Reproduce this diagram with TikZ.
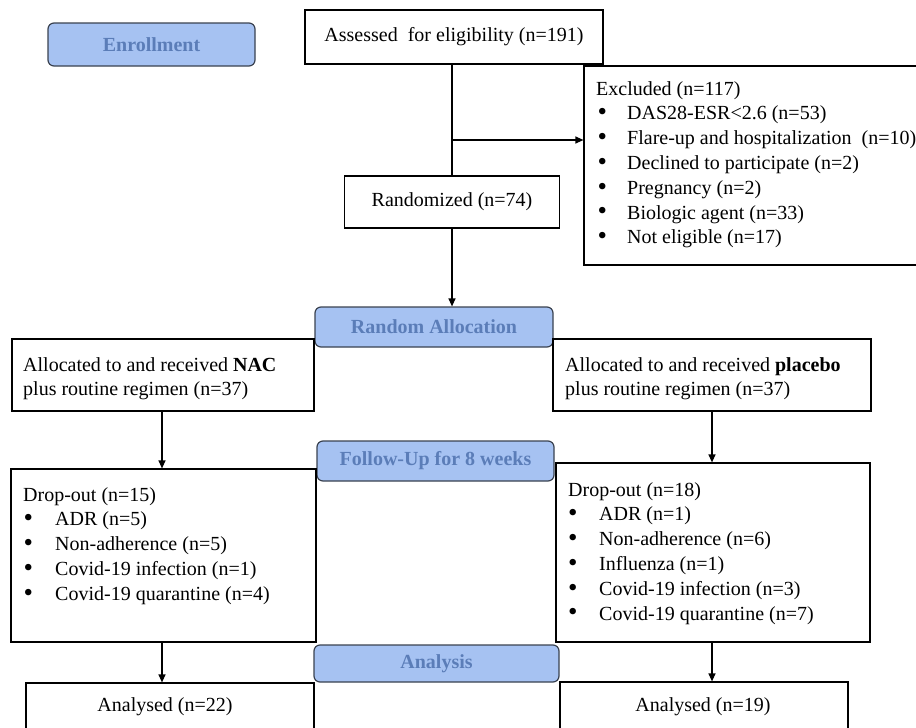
\documentclass[tikz,border=0pt]{standalone}
\usepackage{fontspec}
\setmainfont{Liberation Serif}
\usetikzlibrary{arrows.meta}
\definecolor{phasefill}{HTML}{A6C2F2}
\definecolor{phasetext}{HTML}{5B7DB8}
\definecolor{phaseline}{HTML}{3A4250}
\newcommand{\bulitem}[2]{\hspace*{#1pt}\makebox[#2pt][l]{\raisebox{-0.9pt}{\scalebox{1.35}{\textbullet}}}}
\begin{document}
\begin{tikzpicture}[x=1pt,y=-1pt,
  font=\fontsize{20}{24.8}\selectfont,
  boxnode/.style={draw, line width=1.2pt, inner sep=0pt},
  phase/.style={draw=phaseline, fill=phasefill, rounded corners=6pt, line width=1.2pt,
    text=phasetext, font=\fontsize{20}{24}\selectfont\bfseries, inner sep=0pt},
  txt/.style={anchor=north west, inner sep=0pt, align=left},
  arr/.style={line width=1.2pt, -{Triangle[length=8pt,width=7pt]}},
  ln/.style={line width=1.2pt}]
\useasboundingbox (0,0) rectangle (916,728);
\clip (0,0) rectangle (916,728);

% phase labels
\node[phase, minimum width=207, minimum height=43] (enroll) at (151.5,44.5) {Enrollment};
\node[phase, minimum width=238, minimum height=40] (alloc) at (434,327) {Random Allocation};
\node[phase, minimum width=237, minimum height=40] (follow) at (435.5,461) {Follow-Up for 8 weeks};
\node[phase, minimum width=245, minimum height=37] (analysis) at (436.5,663.5) {Analysis};

% boxes
\node[boxnode, minimum width=298, minimum height=54] (assess) at (454,37) {Assessed\ \ for eligibility (n=191)};
\node[boxnode, minimum width=356, minimum height=199] (excl) at (762,165.5) {};
\node[txt] (exclt) at (596,81) {Excluded (n=117)\\
\bulitem{1.5}{29.5}DAS28-ESR<2.6 (n=53)\\
\bulitem{1.5}{29.5}Flare-up and hospitalization\ \ (n=10)\\
\bulitem{1.5}{29.5}Declined to participate (n=2)\\
\bulitem{1.5}{29.5}Pregnancy (n=2)\\
\bulitem{1.5}{29.5}Biologic agent (n=33)\\
\bulitem{1.5}{29.5}Not eligible (n=17)};
\node[boxnode, minimum width=215, minimum height=52] (rand) at (452,202) {Randomized (n=74)};

\node[boxnode, minimum width=302, minimum height=72] (nac) at (163,375) {};
\node[txt] (nact) at (23,357) {Allocated to and received \textbf{NAC}\\plus routine regimen (n=37)};
\node[boxnode, minimum width=318, minimum height=72] (plc) at (712,375) {};
\node[txt] (plct) at (565,357) {Allocated to and received \textbf{placebo}\\plus routine regimen (n=37)};

\node[boxnode, minimum width=305, minimum height=173] (dropl) at (163.5,555.5) {};
\node[txt] (droplt) at (23,487) {Drop-out (n=15)\\
\bulitem{0.5}{31.5}ADR (n=5)\\
\bulitem{0.5}{31.5}Non-adherence (n=5)\\
\bulitem{0.5}{31.5}Covid-19 infection (n=1)\\
\bulitem{0.5}{31.5}Covid-19 quarantine (n=4)};
\node[boxnode, minimum width=314, minimum height=179] (dropr) at (713,552.5) {};
\node[txt] (droprt) at (568,482) {Drop-out (n=18)\\
\bulitem{0}{31}ADR (n=1)\\
\bulitem{0}{31}Non-adherence (n=6)\\
\bulitem{0}{31}Influenza (n=1)\\
\bulitem{0}{31}Covid-19 infection (n=3)\\
\bulitem{0}{31}Covid-19 quarantine (n=7)};

\node[boxnode, minimum width=288, minimum height=60] (anl) at (170,713) {};
\node[inner sep=0pt] (anlt) at (165,707) {Analysed (n=22)};
\node[boxnode, minimum width=288, minimum height=60] (anr) at (704,712) {};
\node[inner sep=0pt] (anrt) at (703,707) {Analysed (n=19)};

% connectors
\coordinate (branch) at (452,140);
\draw[ln] (assess.south -| rand.north) -- (rand.north);
\draw[arr] (branch) -- (branch -| excl.west);
\draw[arr] (rand.south) -- (alloc.north -| rand.south);
\draw[arr] (nac.south -| 162,0) -- (dropl.north -| 162,0);
\draw[arr] (plc.south) -- (dropr.north -| plc.south);
\draw[arr] (dropl.south -| 162,0) -- (anl.north -| 162,0);
\draw[arr] (dropr.south -| plc.south) -- (anr.north -| plc.south);
\end{tikzpicture}
\end{document}
